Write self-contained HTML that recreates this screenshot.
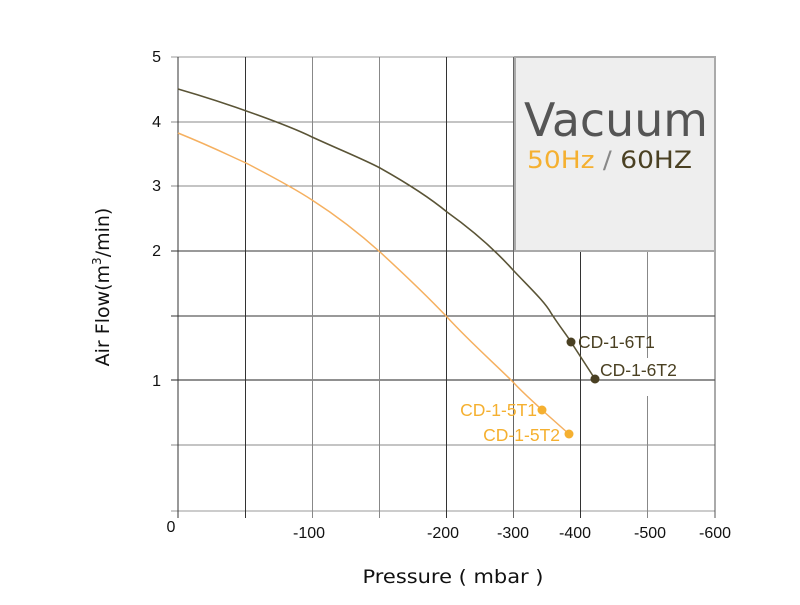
<!DOCTYPE html>
<html><head><style>body{margin:0;background:#fff}</style></head><body>
<svg width="800" height="600" xmlns="http://www.w3.org/2000/svg" font-family="Liberation Sans, sans-serif">
<rect width="800" height="600" fill="#fff"/>
<g stroke="#666" stroke-width="1">
<line x1="171" y1="57" x2="715" y2="57" stroke="#999"/>
<line x1="171" y1="122" x2="715" y2="122" stroke="#888"/>
<line x1="171" y1="186" x2="715" y2="186" stroke="#888"/>
<line x1="171" y1="251" x2="715" y2="251" stroke="#333"/>
<line x1="171" y1="316" x2="715" y2="316" stroke="#333"/>
<line x1="171" y1="380" x2="715" y2="380" stroke="#222"/>
<line x1="171" y1="445" x2="715" y2="445" stroke="#888"/>
<line x1="171" y1="511" x2="715" y2="511" stroke="#999"/>
<line x1="178" y1="57" x2="178" y2="518" stroke="#333"/>
<line x1="245.5" y1="57" x2="245.5" y2="518" stroke="#333"/>
<line x1="312.5" y1="57" x2="312.5" y2="518" stroke="#888"/>
<line x1="379.5" y1="57" x2="379.5" y2="518" stroke="#888"/>
<line x1="446.5" y1="57" x2="446.5" y2="518" stroke="#333"/>
<line x1="513.5" y1="57" x2="513.5" y2="518" stroke="#666"/>
<line x1="580.5" y1="251" x2="580.5" y2="518" stroke="#333"/>
<line x1="647.5" y1="251" x2="647.5" y2="358" stroke="#888"/>
<line x1="647.5" y1="396" x2="647.5" y2="518" stroke="#888"/>
<line x1="715" y1="57" x2="715" y2="518" stroke="#555"/>
</g>
<rect x="515" y="57" width="200" height="194" fill="#eee" stroke="#aaa" stroke-width="2"/>
<text x="524" y="136" font-size="46" fill="#555" font-family="DejaVu Sans, sans-serif" textLength="184" lengthAdjust="spacingAndGlyphs">Vacuum</text>
<text x="527" y="168" font-size="24" fill="#f5b030" font-family="DejaVu Sans, sans-serif" textLength="165" lengthAdjust="spacingAndGlyphs">50Hz <tspan fill="#888">/</tspan> <tspan fill="#4a4022">60HZ</tspan></text>
<path d="M178,89 C230,104 290,126 312,137 C345,152 365,160 380,168 C405,182 430,198 447,212 C475,232 495,250 513,270 C530,288 545,302 551,313 C560,327 566,334 571,342 L595,379" fill="none" stroke="#5a5436" stroke-width="1.6"/>
<path d="M178,133 C215,148 230,156 246,163 C275,178 300,192 312,200 C340,218 360,234 380,252 C405,275 428,297 447,317 C470,342 495,364 513,382 C525,395 535,403 542,410 L569,434" fill="none" stroke="#f5b060" stroke-width="1.5"/>
<circle cx="571" cy="342" r="4.5" fill="#4a4022"/>
<circle cx="595" cy="379" r="4.5" fill="#4a4022"/>
<circle cx="542" cy="410" r="4.5" fill="#f5b030"/>
<circle cx="569" cy="434" r="4.5" fill="#f5b030"/>
<g font-size="17.5">
<text x="578" y="348" fill="#4a4022">CD-1-6T1</text>
<text x="600" y="376" fill="#4a4022">CD-1-6T2</text>
<text x="537" y="416" fill="#f5b030" text-anchor="end">CD-1-5T1</text>
<text x="560" y="441" fill="#f5b030" text-anchor="end">CD-1-5T2</text>
</g>
<g font-size="16" fill="#111" text-anchor="end">
<text x="161" y="62">5</text><text x="161" y="127">4</text><text x="161" y="191">3</text>
<text x="161" y="256">2</text><text x="161" y="386">1</text>
</g>
<g font-size="16" fill="#111" text-anchor="middle">
<text x="171" y="532">0</text><text x="309" y="538">-100</text><text x="443" y="538">-200</text>
<text x="513" y="538">-300</text><text x="575" y="538">-400</text><text x="650" y="538">-500</text>
<text x="715" y="538">-600</text>
</g>
<text x="453" y="583" font-size="19" fill="#111" text-anchor="middle" font-family="DejaVu Sans, sans-serif" textLength="181" lengthAdjust="spacingAndGlyphs">Pressure ( mbar )</text>
<text transform="translate(109,287) rotate(-90)" font-size="19" fill="#111" text-anchor="middle" font-family="DejaVu Sans, sans-serif">Air Flow(m<tspan font-size="12" dy="-8">3</tspan><tspan dy="8">/min)</tspan></text>
</svg>
</body></html>
